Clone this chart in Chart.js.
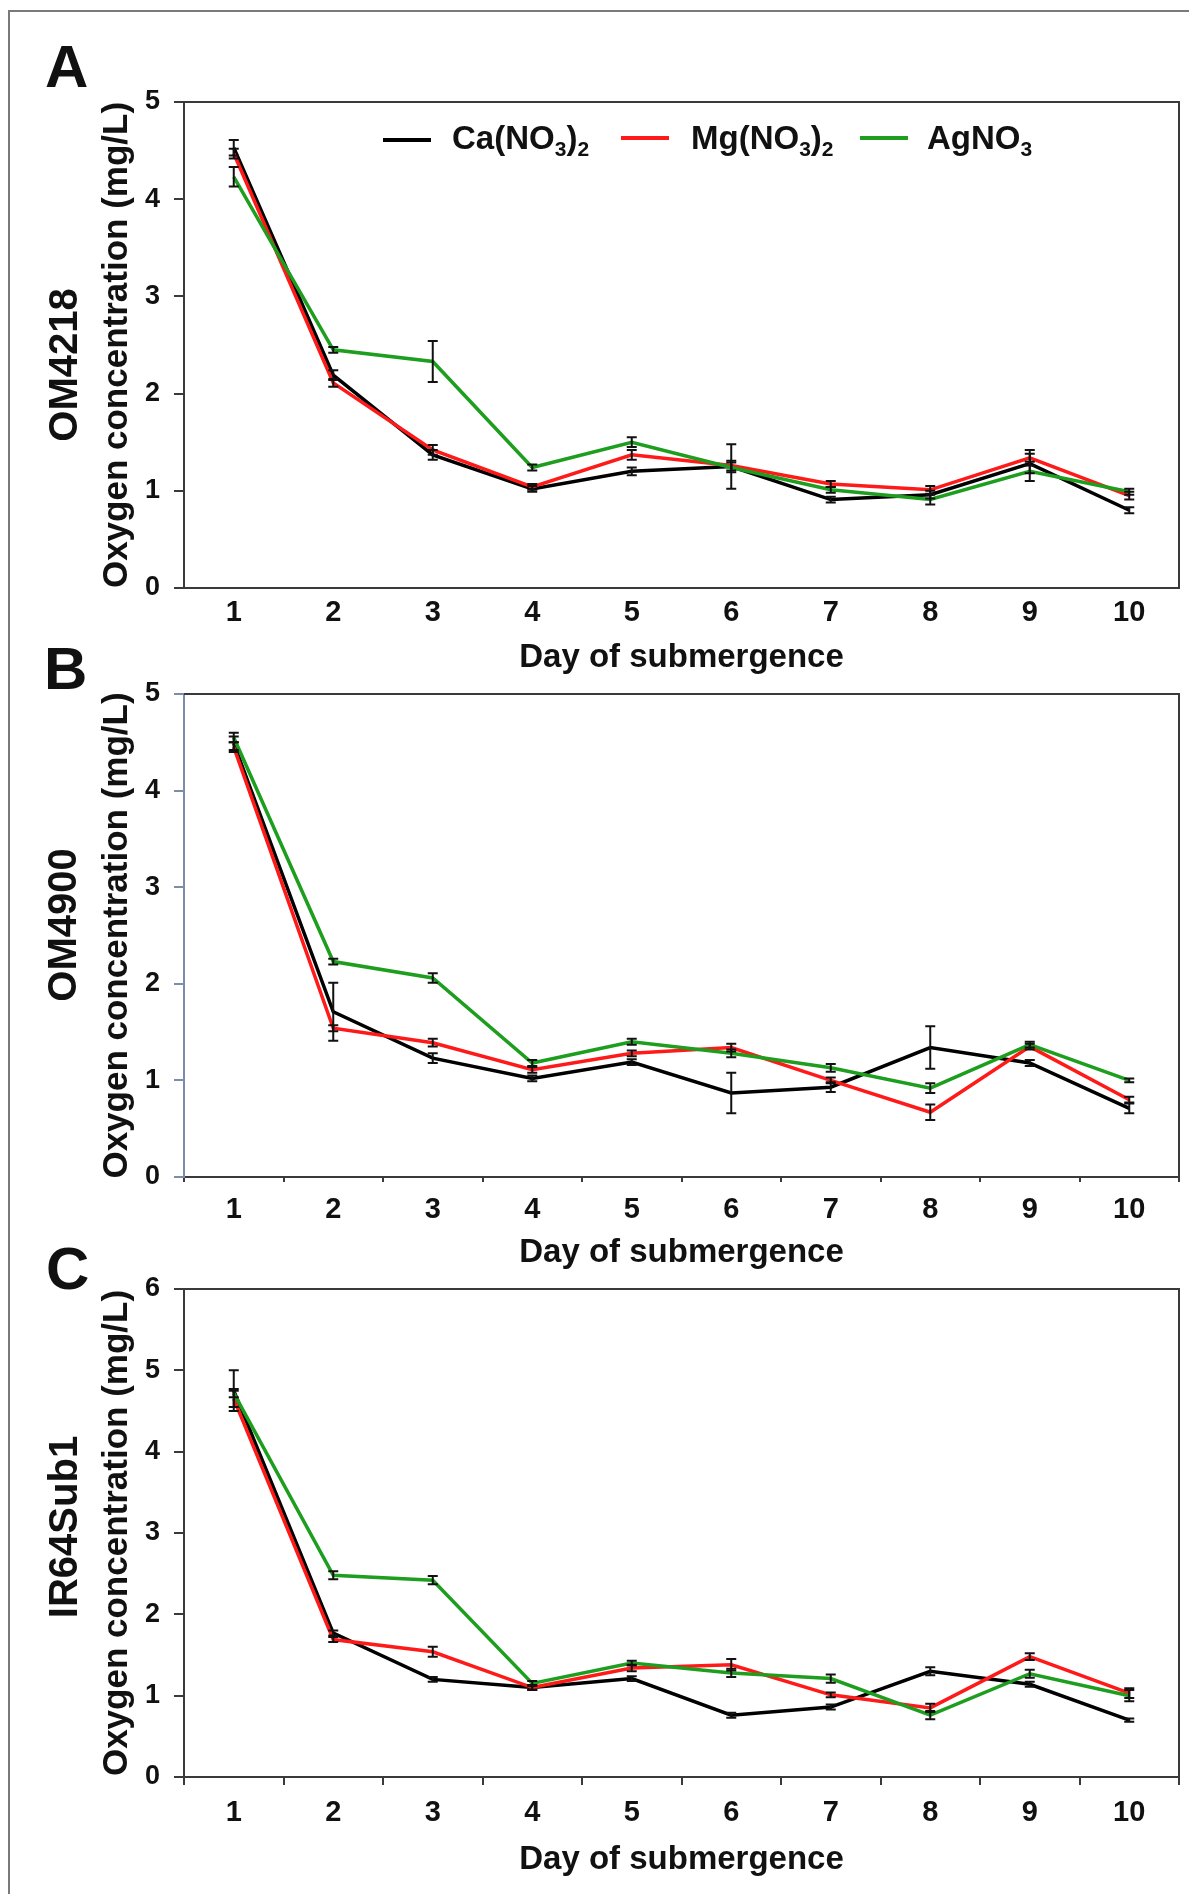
<!DOCTYPE html>
<html>
<head>
<meta charset="utf-8">
<script src="https://cdn.jsdelivr.net/npm/chart.js@4.4.0/dist/chart.umd.min.js"></script>
<style>
  html, body { margin: 0; padding: 0; background: #fff; }
  #page {
    position: relative; width: 1189px; height: 1894px; overflow: hidden;
    font-family: "Liberation Sans", Arial, sans-serif; font-weight: bold; color: #111;
  }
  #frame {
    position: absolute; left: 8px; top: 10px; width: 1200px; height: 1900px;
    border-left: 2px solid #7a7a7a; border-top: 2px solid #7a7a7a;
  }
  canvas { position: absolute; left: 0; }
  .letter { position: absolute; font-size: 60px; line-height: 1; }
  .rot {
    position: absolute; font-size: 40px; line-height: 1; white-space: nowrap;
    transform: translate(-50%, -50%) rotate(-90deg);
  }
  .leg-line { position: absolute; width: 48px; height: 4px; }
  .leg-text { position: absolute; font-size: 33px; line-height: 1; white-space: nowrap; }
  .leg-text span { font-size: 21px; position: relative; top: 7px; }
</style>
</head>
<body>
<div id="page">
  <div id="frame"></div>

  <canvas id="chartA" width="1189" height="700" style="top:0px;width:1189px;height:700px"></canvas>
  <canvas id="chartB" width="1189" height="650" style="top:640px;width:1189px;height:650px"></canvas>
  <canvas id="chartC" width="1189" height="654" style="top:1240px;width:1189px;height:654px"></canvas>

  <div class="letter" style="left:45px;top:37px">A</div>
  <div class="letter" style="left:44px;top:639px">B</div>
  <div class="letter" style="left:46px;top:1239px">C</div>

  <div class="rot" style="left:63px;top:365px">OM4218</div>
  <div class="rot" style="left:62px;top:925px">OM4900</div>
  <div class="rot" style="left:63px;top:1527px">IR64Sub1</div>

  <div class="leg-line" style="left:383px;top:138px;background:#000"></div>
  <div class="leg-text" style="left:452px;top:121px">Ca(NO<span>3</span>)<span>2</span></div>
  <div class="leg-line" style="left:621px;top:136px;background:#ff1a1a"></div>
  <div class="leg-text" style="left:691px;top:121px">Mg(NO<span>3</span>)<span>2</span></div>
  <div class="leg-line" style="left:860px;top:136px;background:#1e9e1e"></div>
  <div class="leg-text" style="left:927px;top:121px">AgNO<span>3</span></div>
</div>

<script>
const DAYS = ["1", "2", "3", "4", "5", "6", "7", "8", "9", "10"];

// A - OM4218
const CA_A = [4.53, 2.19, 1.37, 1.02, 1.20, 1.25, 0.91, 0.96, 1.28, 0.80];
const MG_A = [4.47, 2.11, 1.42, 1.04, 1.37, 1.26, 1.07, 1.01, 1.34, 0.95];
const AG_A = [4.23, 2.45, 2.33, 1.24, 1.50, 1.24, 1.01, 0.91, 1.20, 0.99];
const CA_A_ERR = [0.08, 0.05, 0.05, 0.03, 0.04, 0.23, 0.03, 0.04, 0.10, 0.03];
const MG_A_ERR = [0.05, 0.04, 0.05, 0.03, 0.05, 0.05, 0.03, 0.04, 0.08, 0.04];
const AG_A_ERR = [0.10, 0.03, 0.21, 0.03, 0.05, 0.05, 0.03, 0.05, 0.10, 0.03];

// B - OM4900
const CA_B = [4.49, 1.71, 1.23, 1.02, 1.19, 0.87, 0.93, 1.34, 1.18, 0.71];
const MG_B = [4.45, 1.54, 1.39, 1.11, 1.28, 1.34, 1.00, 0.67, 1.35, 0.80];
const AG_B = [4.55, 2.23, 2.06, 1.18, 1.40, 1.28, 1.13, 0.92, 1.37, 1.00];
const CA_B_ERR = [0.07, 0.30, 0.05, 0.03, 0.03, 0.21, 0.05, 0.22, 0.03, 0.05];
const MG_B_ERR = [0.05, 0.03, 0.04, 0.03, 0.03, 0.04, 0.03, 0.08, 0.03, 0.03];
const AG_B_ERR = [0.05, 0.03, 0.05, 0.03, 0.03, 0.04, 0.04, 0.05, 0.03, 0.02];

// C - IR64Sub1
const CA_C = [4.75, 1.77, 1.20, 1.10, 1.21, 0.76, 0.86, 1.30, 1.14, 0.70];
const MG_C = [4.65, 1.69, 1.54, 1.10, 1.34, 1.38, 1.01, 0.85, 1.48, 1.03];
const AG_C = [4.72, 2.48, 2.42, 1.15, 1.40, 1.28, 1.21, 0.76, 1.27, 1.00];
const CA_C_ERR = [0.25, 0.03, 0.03, 0.03, 0.03, 0.03, 0.03, 0.05, 0.03, 0.02];
const MG_C_ERR = [0.10, 0.03, 0.06, 0.03, 0.04, 0.07, 0.03, 0.05, 0.04, 0.06];
const AG_C_ERR = [0.05, 0.05, 0.05, 0.03, 0.03, 0.05, 0.05, 0.05, 0.05, 0.07];

const COLORS = { ca: "#000000", mg: "#ff1a1a", ag: "#1e9e1e" };
const FONT = "'Liberation Sans', Arial, sans-serif";
const TICK_FONT = "'Liberation Sans Narrow', 'Arial Narrow', 'Liberation Sans', Arial, sans-serif";
const AXIS_COLOR = "#3a3a3a";

// vertical error bars with caps, black like the original
const errorBars = {
  id: "errorBars",
  afterDatasetsDraw(chart) {
    const { ctx, scales: { x, y } } = chart;
    ctx.save();
    ctx.strokeStyle = "#111";
    ctx.lineWidth = 2;
    chart.data.datasets.forEach((ds) => {
      ds.data.forEach((v, i) => {
        const e = ds.errors[i];
        const px = x.getPixelForValue(i);
        const top = y.getPixelForValue(v + e);
        const bot = y.getPixelForValue(v - e);
        ctx.beginPath();
        ctx.moveTo(px, top); ctx.lineTo(px, bot);
        ctx.moveTo(px - 5, top); ctx.lineTo(px + 5, top);
        ctx.moveTo(px - 5, bot); ctx.lineTo(px + 5, bot);
        ctx.stroke();
      });
    });
    ctx.restore();
  },
};

// top + right edge of the plot box
const plotFrame = {
  id: "plotFrame",
  afterDraw(chart) {
    const { ctx, chartArea: a } = chart;
    ctx.save();
    ctx.strokeStyle = AXIS_COLOR;
    ctx.lineWidth = 2;
    ctx.beginPath();
    ctx.moveTo(a.left, a.top);
    ctx.lineTo(a.right, a.top);
    ctx.lineTo(a.right, a.bottom);
    ctx.stroke();
    ctx.restore();
  },
};

function series(label, data, errors, color, order) {
  return {
    label, data, errors, order,
    borderColor: color,
    backgroundColor: color,
    borderWidth: 3.5,
    pointRadius: 0,
    tension: 0,
    fill: false,
  };
}

function makePanel(id, cfg) {
  const ctx = document.getElementById(id).getContext("2d");
  return new Chart(ctx, {
    type: "line",
    data: {
      labels: DAYS,
      datasets: [
        series("Ca(NO₃)₂", cfg.ca, cfg.caErr, COLORS.ca, 3),
        series("Mg(NO₃)₂", cfg.mg, cfg.mgErr, COLORS.mg, 2),
        series("AgNO₃", cfg.ag, cfg.agErr, COLORS.ag, 1),
      ],
    },
    options: {
      responsive: false,
      animation: false,
      layout: { padding: { top: cfg.padTop, right: 10, left: 0, bottom: 0 } },
      plugins: { legend: { display: false }, tooltip: { enabled: false } },
      scales: {
        x: {
          offset: true,
          grid: {
            offset: true, drawOnChartArea: false,
            drawTicks: cfg.xTick > 0, tickLength: cfg.xTick,
            color: AXIS_COLOR, lineWidth: 2,
          },
          border: { color: AXIS_COLOR, width: 2 },
          ticks: {
            color: "#111", padding: cfg.xPad, autoSkip: false, maxRotation: 0,
            font: { family: TICK_FONT, size: 29, weight: "bold" },
          },
          title: {
            display: true, text: "Day of submergence", color: "#111",
            font: { family: FONT, size: 33, weight: "bold" },
            padding: { top: 0, bottom: cfg.xTitlePad },
          },
          afterFit: (s) => { s.height = cfg.xH; },
        },
        y: {
          min: 0, max: cfg.yMax,
          grid: {
            drawOnChartArea: false, drawTicks: true, tickLength: 10,
            color: cfg.yColor, lineWidth: 2,
          },
          border: { color: cfg.yColor, width: 2 },
          ticks: {
            stepSize: 1, color: "#111", padding: 14,
            font: { family: TICK_FONT, size: 27, weight: "bold" },
          },
          title: {
            display: true, text: "Oxygen concentration (mg/L)", color: "#111",
            font: { family: FONT, size: 35, weight: "bold" },
            padding: { top: 96, bottom: 0 },
          },
          afterFit: (s) => { s.width = 184; },
        },
      },
    },
    plugins: [errorBars, plotFrame],
  });
}

makePanel("chartA", {
  ca: CA_A, mg: MG_A, ag: AG_A, caErr: CA_A_ERR, mgErr: MG_A_ERR, agErr: AG_A_ERR,
  padTop: 102, yMax: 5, xH: 112, xTick: 0, xPad: 8, xTitlePad: 22, yColor: AXIS_COLOR,
});
makePanel("chartB", {
  ca: CA_B, mg: MG_B, ag: AG_B, caErr: CA_B_ERR, mgErr: MG_B_ERR, agErr: AG_B_ERR,
  padTop: 54, yMax: 5, xH: 113, xTick: 5, xPad: 11, xTitlePad: 17, yColor: "#7d8ca8",
});
makePanel("chartC", {
  ca: CA_C, mg: MG_C, ag: AG_C, caErr: CA_C_ERR, mgErr: MG_C_ERR, agErr: AG_C_ERR,
  padTop: 49, yMax: 6, xH: 117, xTick: 8, xPad: 11, xTitlePad: 14, yColor: AXIS_COLOR,
});
</script>
</body>
</html>
